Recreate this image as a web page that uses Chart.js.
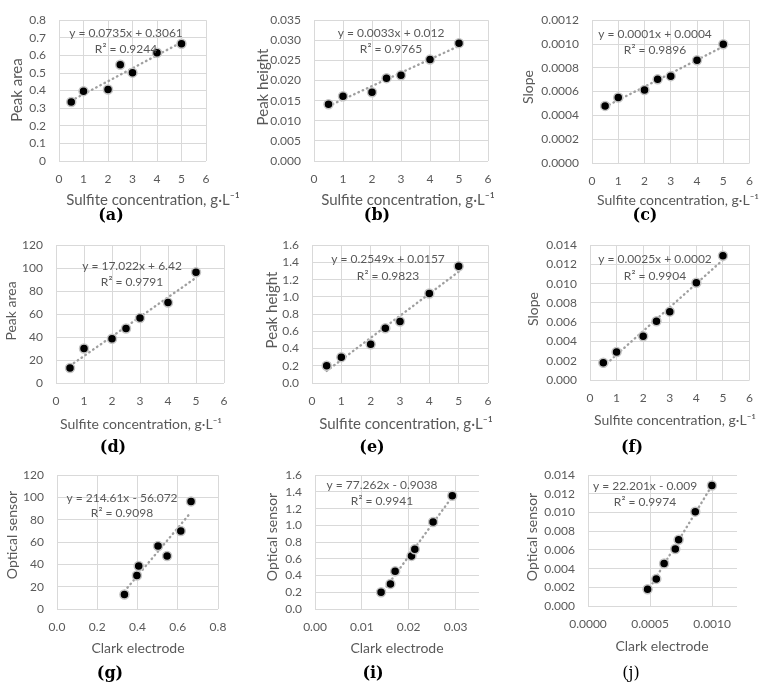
<!DOCTYPE html>
<html lang="en">
<head>
<meta charset="UTF-8">
<title>Sulfite calibration</title>
<style>
  html, body { margin: 0; padding: 0; background: #fff; }
  #page { position: relative; width: 764px; height: 685px; overflow: hidden; }
  #page canvas { position: absolute; }
</style>
</head>
<body>
<div id="page"></div>
<script src="https://cdn.jsdelivr.net/npm/chart.js"></script>
<script>
// sulfite concentrations, g/L
const conc = [0.5, 1, 2, 2.5, 3, 4, 5];

// Clark electrode responses
const areaClark = [0.335, 0.397, 0.406, 0.547, 0.502, 0.615, 0.666];
const heightClark = [0.0141, 0.0161, 0.0171, 0.0206, 0.0213, 0.0252, 0.0293];
const slopeClark = [0.00048, 0.00055, 0.000613, 0.000703, 0.00073, 0.000864, 0.000998];

// optical sensor responses
const areaOptical = [13, 30, 38.5, 47.5, 56.5, 70, 96.5];
const heightOptical = [0.20, 0.30, 0.45, 0.635, 0.715, 1.04, 1.355];
const slopeOptical = [0.0018, 0.0029, 0.00455, 0.0061, 0.0071, 0.0101, 0.0129];

// trendline labels as printed on the figure
const equations = [
    ['y = 0.0735x + 0.3061', 'R² = 0.9244'],
    ['y = 0.0033x + 0.012', 'R² = 0.9765'],
    ['y = 0.0001x + 0.0004', 'R² = 0.9896'],
    ['y = 17.022x + 6.42', 'R² = 0.9791'],
    ['y = 0.2549x + 0.0157', 'R² = 0.9823'],
    ['y = 0.0025x + 0.0002', 'R² = 0.9904'],
    ['y = 214.61x - 56.072', 'R² = 0.9098'],
    ['y = 77.262x - 0.9038', 'R² = 0.9941'],
    ['y = 22.201x - 0.009', 'R² = 0.9974']
];
const panelLetters = ['(a)', '(b)', '(c)', '(d)', '(e)', '(f)', '(g)', '(i)', '(j)'];
const concTitle = 'Sulfite concentration, g·L⁻¹';

const GREY = '#595959';
const FONT = 'Lato, "Liberation Sans", sans-serif';

// cell = canvas box, plot = chart area, all in page pixels
const panels = [
    { xs: conc, ys: areaClark, cell: [0, 0, 255, 225], plot: [59, 14, 206, 161],
      x: [0, 6, 1, 0], y: [0, 0.8, 0.1, -1], xTitle: concTitle, yTitle: 'Peak area',
      xt: [153, 200], yt: [17, 90], ts: 15, eq: [126, 33, 49], lab: [111, 216], bold: true },
    { xs: conc, ys: heightClark, cell: [255, 0, 250, 225], plot: [314, 14, 488, 161],
      x: [0, 6, 1, 0], y: [0, 0.035, 0.005, 3], xTitle: concTitle, yTitle: 'Peak height',
      xt: [408, 200], yt: [263, 87], ts: 15, eq: [391, 33, 49], lab: [377, 216], bold: true },
    { xs: conc, ys: slopeClark, cell: [505, 0, 259, 225], plot: [592, 14, 751, 163],
      x: [0, 6, 1, 0], y: [0, 0.0012, 0.0002, 4], xTitle: concTitle, yTitle: 'Slope',
      xt: [678, 200], yt: [528, 87], ts: 14, eq: [655, 34, 50], lab: [645, 216], bold: true },
    { xs: conc, ys: areaOptical, cell: [0, 225, 255, 230], plot: [56, 239, 224, 383],
      x: [0, 6, 1, 0], y: [0, 120, 20, 0], xTitle: concTitle, yTitle: 'Peak area',
      xt: [141, 424], yt: [11, 311], ts: 14, eq: [132, 266, 282], lab: [113, 448], bold: true },
    { xs: conc, ys: heightOptical, cell: [255, 225, 250, 230], plot: [312, 239, 488, 383],
      x: [0, 6, 1, 0], y: [0, 1.6, 0.2, 1], xTitle: concTitle, yTitle: 'Peak height',
      xt: [406, 424], yt: [272, 310], ts: 15, eq: [388, 259, 276], lab: [372, 448], bold: true },
    { xs: conc, ys: slopeOptical, cell: [505, 225, 259, 230], plot: [590, 239, 751, 380],
      x: [0, 6, 1, 0], y: [0, 0.014, 0.002, 3], xTitle: concTitle, yTitle: 'Slope',
      xt: [675, 420], yt: [533, 309], ts: 14, eq: [655, 259, 276], lab: [632, 448], bold: true },
    { xs: areaClark, ys: areaOptical, cell: [0, 455, 255, 230], plot: [57, 464, 218, 609],
      x: [0, 0.8, 0.2, 1], y: [0, 120, 20, 0], xTitle: 'Clark electrode', yTitle: 'Optical sensor',
      xt: [138, 648], yt: [12, 535], ts: 14, eq: [122, 498, 513], lab: [110, 674], bold: true },
    { xs: heightClark, ys: heightOptical, cell: [255, 455, 250, 230], plot: [315, 464, 479, 609],
      x: [0, 0.035, 0.01, 2], y: [0, 1.6, 0.2, 1], xTitle: 'Clark electrode', yTitle: 'Optical sensor',
      xt: [397, 648], yt: [272, 537], ts: 14, eq: [382, 485, 501], lab: [373, 674], bold: true },
    { xs: slopeClark, ys: slopeOptical, cell: [505, 455, 259, 230], plot: [588, 464, 737, 606],
      x: [0, 0.0012, 0.0005, 4], y: [0, 0.014, 0.002, 3], xTitle: 'Clark electrode', yTitle: 'Optical sensor',
      xt: [662, 646], yt: [532, 537], ts: 14, eq: [645, 486, 502], lab: [631, 674], bold: false }
];

function fmt(v, dec) {
    if (dec < 0) return String(Number(v.toFixed(6)));
    return v.toFixed(dec);
}

// least squares trendline, like the spreadsheet one
function fitLine(xs, ys) {
    const n = xs.length;
    const mx = xs.reduce((a, b) => a + b, 0) / n;
    const my = ys.reduce((a, b) => a + b, 0) / n;
    let sxy = 0, sxx = 0;
    xs.forEach((x, i) => { sxy += (x - mx) * (ys[i] - my); sxx += (x - mx) ** 2; });
    const k = sxy / sxx;
    const x0 = Math.min(...xs), x1 = Math.max(...xs);
    return [{ x: x0, y: my + k * (x0 - mx) }, { x: x1, y: my + k * (x1 - mx) }];
}

function axis(spec, isX, p) {
    const [min, max, step, dec] = spec;
    return {
        type: 'linear', min: min, max: max,
        afterBuildTicks: sc => {
            const t = [];
            for (let v = min; v <= max + step * 1e-6; v += step) t.push({ value: Number(v.toFixed(8)) });
            sc.ticks = t;
        },
        afterFit: sc => {
            if (isX) sc.height = p.cell[1] + p.cell[3] - p.plot[3];
            else sc.width = p.plot[0] - p.cell[0];
        },
        grid: { color: '#d9d9d9', lineWidth: 1, drawTicks: false },
        border: { display: false },
        ticks: {
            color: GREY, font: { family: FONT, size: 12 },
            padding: isX ? 11 : 13, maxRotation: 0, autoSkip: false,
            callback: v => fmt(v, dec)
        }
    };
}

const textPlugin = {
    id: 'panelText',
    afterDraw(chart) {
        const p = chart.options.plugins.panelText;
        const ctx = chart.ctx;
        const ox = p.cell[0], oy = p.cell[1];
        ctx.save();
        ctx.fillStyle = GREY;
        ctx.textAlign = 'center';
        ctx.textBaseline = 'middle';
        ctx.font = '12px ' + FONT;
        ctx.fillText(p.eqText[0], p.eq[0] - ox, p.eq[1] - oy);
        ctx.fillText(p.eqText[1], p.eq[0] - ox, p.eq[2] - oy);
        ctx.font = p.ts + 'px ' + FONT;
        ctx.fillText(p.xTitle, p.xt[0] - ox, p.xt[1] - oy);
        ctx.save();
        ctx.translate(p.yt[0] - ox, p.yt[1] - oy);
        ctx.rotate(-Math.PI / 2);
        ctx.fillText(p.yTitle, 0, 0);
        ctx.restore();
        ctx.fillStyle = '#000';
        ctx.font = (p.bold ? 'bold ' : '') + '16px "DejaVu Serif", serif';
        ctx.fillText(p.letter, p.lab[0] - ox, p.lab[1] - oy);
        ctx.restore();
    }
};

const page = document.getElementById('page');
panels.forEach((p, i) => {
    const cv = document.createElement('canvas');
    cv.width = p.cell[2];
    cv.height = p.cell[3];
    cv.style.left = p.cell[0] + 'px';
    cv.style.top = p.cell[1] + 'px';
    page.appendChild(cv);

    const pts = p.xs.map((x, j) => ({ x: x, y: p.ys[j] }));
    new Chart(cv, {
        type: 'scatter',
        data: {
            datasets: [{
                data: pts, order: 0,
                pointRadius: 4.5, pointBackgroundColor: '#000',
                pointBorderColor: '#c4c4c4', pointBorderWidth: 1.5
            }, {
                type: 'line', data: fitLine(p.xs, p.ys), order: 1,
                borderColor: '#a0a0a0', borderWidth: 2.4, borderDash: [0.5, 4.2],
                borderCapStyle: 'round', pointRadius: 0, fill: false
            }]
        },
        options: {
            responsive: false, animation: false, devicePixelRatio: 1,
            layout: { padding: { left: 0, bottom: 0,
                top: p.plot[1] - p.cell[1], right: p.cell[0] + p.cell[2] - p.plot[2] } },
            scales: { x: axis(p.x, true, p), y: axis(p.y, false, p) },
            plugins: {
                legend: { display: false }, tooltip: { enabled: false },
                panelText: Object.assign({ eqText: equations[i], letter: panelLetters[i] }, p)
            },
            events: []
        },
        plugins: [textPlugin]
    });
});
</script>
</body>
</html>
